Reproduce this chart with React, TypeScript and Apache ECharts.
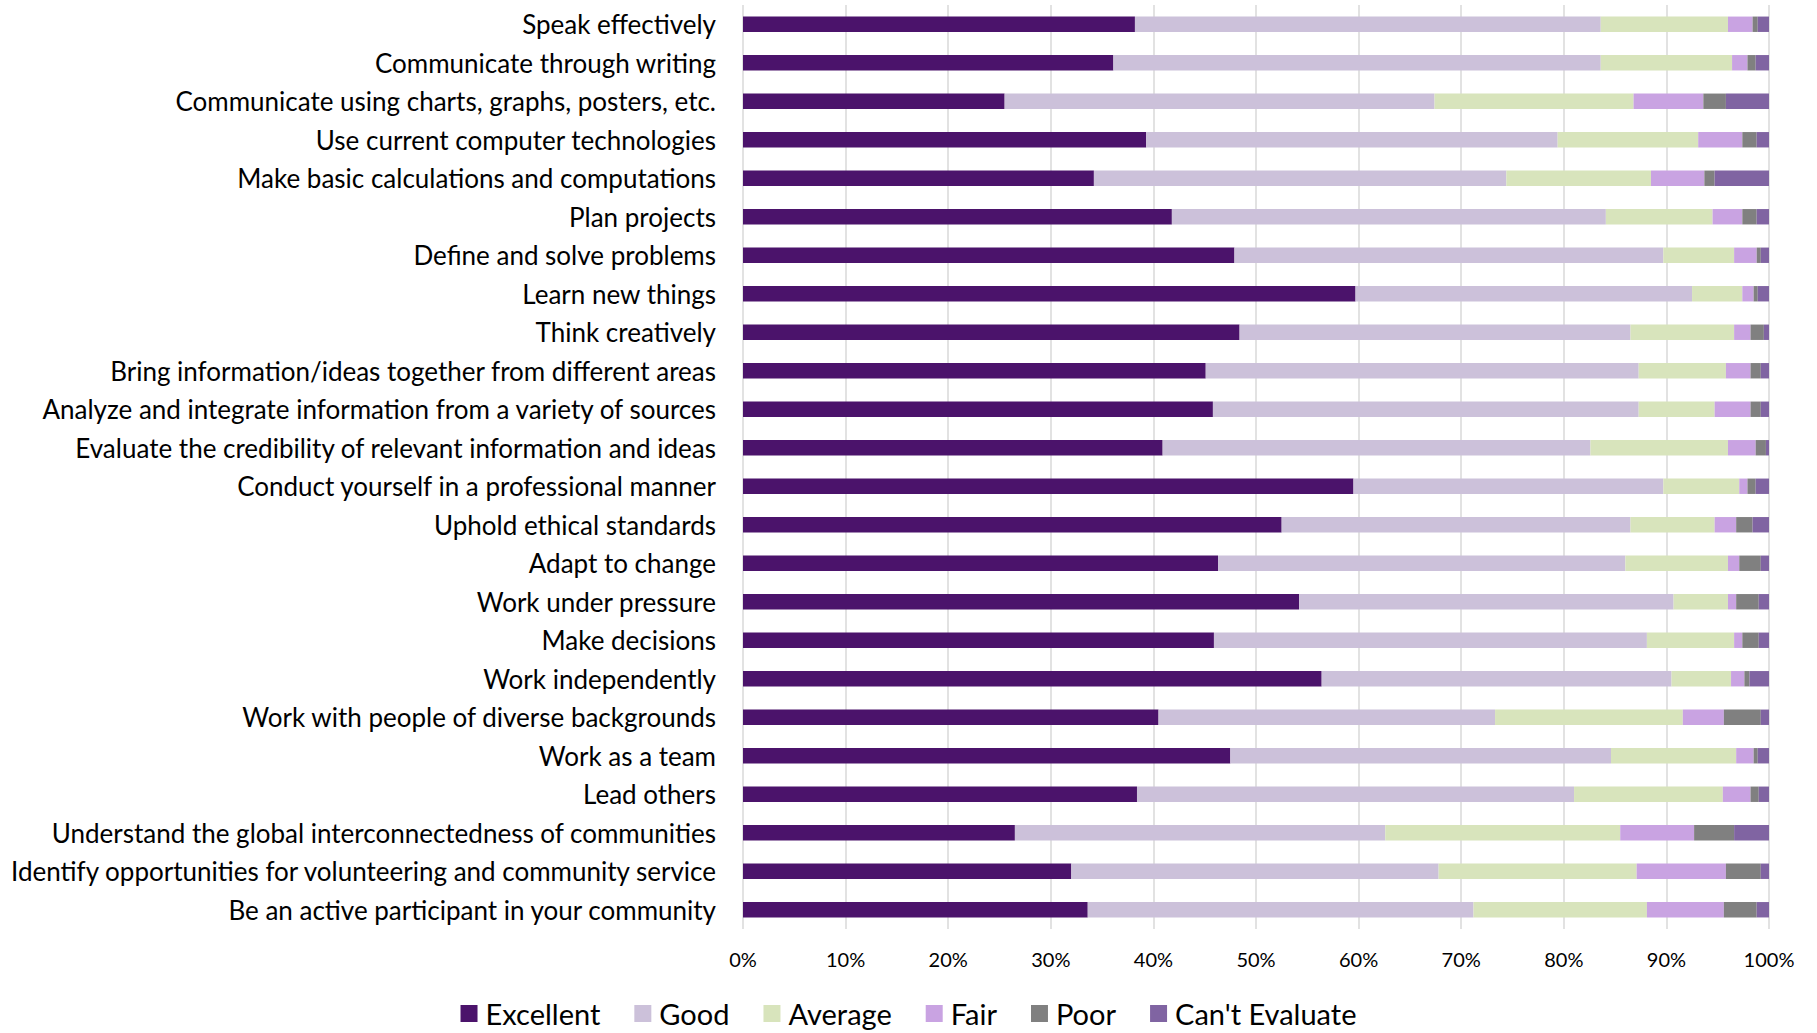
import React, { useEffect, useRef } from "react";
import * as echarts from "echarts";

const categories = [
  "Speak effectively",
  "Communicate through writing",
  "Communicate using charts, graphs, posters, etc.",
  "Use current computer technologies",
  "Make basic calculations and computations",
  "Plan projects",
  "Define and solve problems",
  "Learn new things",
  "Think creatively",
  "Bring information/ideas together from different areas",
  "Analyze and integrate information from a variety of sources",
  "Evaluate the credibility of relevant information and ideas",
  "Conduct yourself in a professional manner",
  "Uphold ethical standards",
  "Adapt to change",
  "Work under pressure",
  "Make decisions",
  "Work independently",
  "Work with people of diverse backgrounds",
  "Work as a team",
  "Lead others",
  "Understand the global interconnectedness of communities",
  "Identify opportunities for volunteering and community service",
  "Be an active participant in your community",
];

const excellent = [38.2, 36.1, 25.5, 39.3, 34.2, 41.8, 47.9, 59.7, 48.4, 45.1, 45.8, 40.9, 59.5, 52.5, 46.3, 54.2, 45.9, 56.4, 40.5, 47.5, 38.4, 26.5, 32.0, 33.6];
const good = [45.4, 47.5, 41.9, 40.1, 40.2, 42.3, 41.8, 32.8, 38.1, 42.2, 41.5, 41.7, 30.2, 34.0, 39.7, 36.5, 42.2, 34.1, 32.8, 37.1, 42.6, 36.1, 35.8, 37.6];
const average = [12.4, 12.8, 19.4, 13.7, 14.1, 10.4, 6.9, 4.9, 10.1, 8.5, 7.4, 13.4, 7.4, 8.2, 10.0, 5.3, 8.5, 5.8, 18.3, 12.2, 14.5, 22.9, 19.3, 16.9];
const fair = [2.4, 1.5, 6.8, 4.3, 5.2, 2.9, 2.2, 1.1, 1.6, 2.4, 3.5, 2.7, 0.8, 2.1, 1.1, 0.8, 0.8, 1.3, 4.0, 1.7, 2.7, 7.2, 8.7, 7.5];
const poor = [0.5, 0.8, 2.2, 1.4, 1.0, 1.4, 0.4, 0.4, 1.3, 1.0, 1.0, 1.0, 0.8, 1.6, 2.1, 2.2, 1.6, 0.5, 3.6, 0.4, 0.8, 3.9, 3.4, 3.2];
const cantEvaluate = [1.1, 1.3, 4.2, 1.2, 5.3, 1.2, 0.8, 1.1, 0.5, 0.8, 0.8, 0.3, 1.3, 1.6, 0.8, 1.0, 1.0, 1.9, 0.8, 1.1, 1.0, 3.4, 0.8, 1.2];

const seriesNames = ["Excellent", "Good", "Average", "Fair", "Poor", "Can't Evaluate"];
const seriesValues = [excellent, good, average, fair, poor, cantEvaluate];
const seriesColors = ["#4B136B", "#CCC1DA", "#D8E4BC", "#C9A3E2", "#808080", "#8064A2"];

const FONT = "Lato, 'Open Sans', sans-serif";

export default function App() {
  const ref = useRef<HTMLDivElement>(null);

  useEffect(() => {
    if (!ref.current) return;
    const chart = echarts.init(ref.current, null, { renderer: "svg" });
    chart.setOption({
      animation: false,
      backgroundColor: "#ffffff",
      textStyle: { fontFamily: FONT },
      grid: { left: 743, right: 48, top: 5, bottom: 104, containLabel: false },
      legend: {
        data: seriesNames,
        bottom: 0,
        left: "center",
        icon: "rect",
        itemWidth: 17,
        itemHeight: 17,
        itemGap: 34,
        textStyle: { fontSize: 29, color: "#000", fontFamily: FONT, padding: [0, 0, 0, 3] },
      },
      xAxis: {
        type: "value",
        min: 0,
        max: 100,
        interval: 10,
        axisLine: { show: false },
        axisTick: { show: false },
        splitLine: { show: true, lineStyle: { color: "#D9D9D9", width: 1.5 } },
        axisLabel: {
          formatter: "{value}%",
          fontSize: 20,
          color: "#000",
          margin: 20,
          fontFamily: FONT,
        },
      },
      yAxis: {
        type: "category",
        data: categories,
        inverse: true,
        axisLine: { show: false },
        axisTick: { show: false },
        splitLine: { show: false },
        axisLabel: { fontSize: 26, color: "#000", margin: 27, fontFamily: FONT },
      },
      series: seriesNames.map((name, i) => ({
        name,
        type: "bar",
        stack: "total",
        data: seriesValues[i],
        barCategoryGap: "60%",
        itemStyle: { color: seriesColors[i] },
      })),
    });
    return () => chart.dispose();
  }, []);

  return (
    <div
      ref={ref}
      style={{ position: "fixed", left: 0, top: 0, width: 1817, height: 1033 }}
    />
  );
}
